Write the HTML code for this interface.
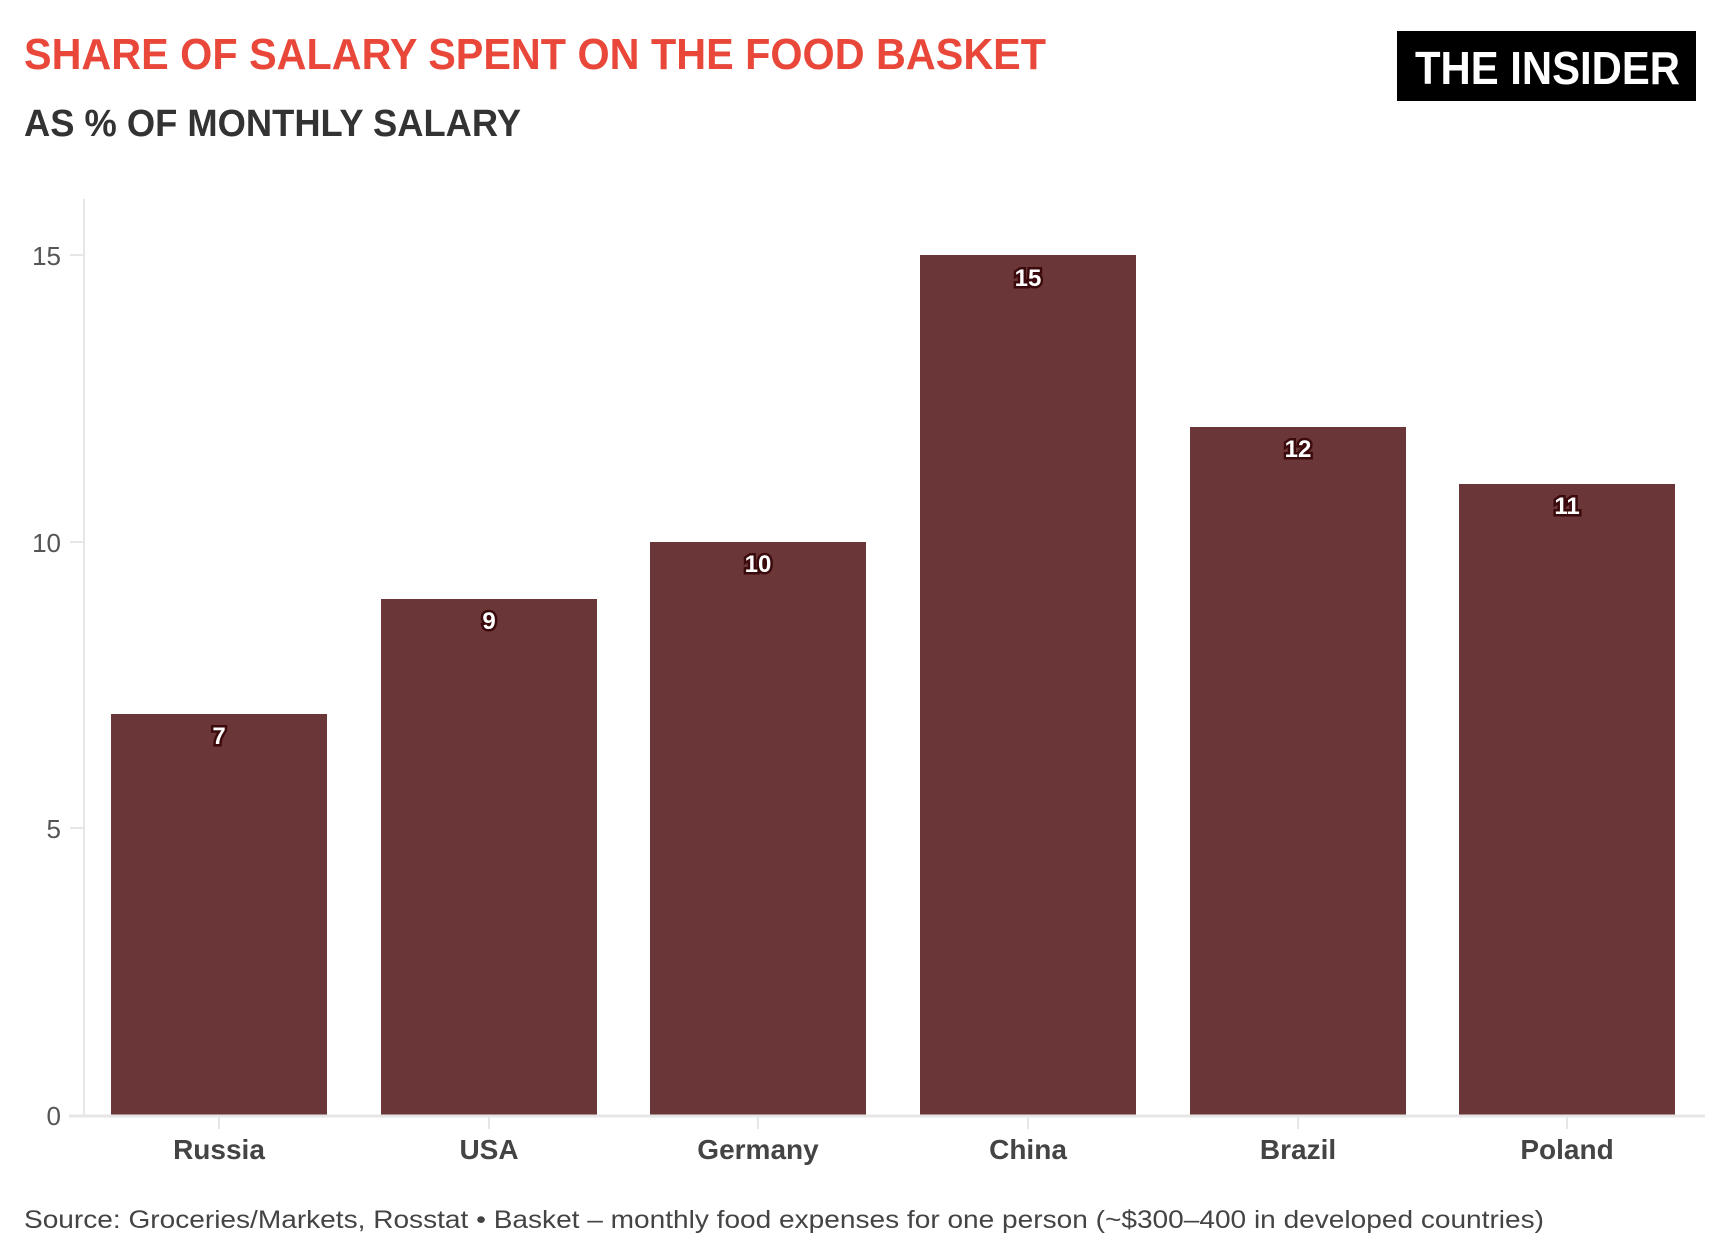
<!DOCTYPE html>
<html><head><meta charset="utf-8"><style>
html,body{margin:0;padding:0;background:#fff;}
svg{display:block;}
text{font-family:"Liberation Sans",sans-serif;}
</style></head><body>
<svg width="1732" height="1259" viewBox="0 0 1732 1259" xmlns="http://www.w3.org/2000/svg">
<rect width="1732" height="1259" fill="#fff"/>
<text x="24" y="69" font-size="44" font-weight="bold" fill="#e8473a" textLength="1022" lengthAdjust="spacingAndGlyphs">SHARE OF SALARY SPENT ON THE FOOD BASKET</text>
<text x="24" y="136" font-size="38" font-weight="bold" fill="#333" textLength="497" lengthAdjust="spacingAndGlyphs">AS % OF MONTHLY SALARY</text>
<rect x="1397" y="31" width="299" height="70" fill="#000"/>
<text x="1415" y="84" font-size="46" font-weight="bold" fill="#fff" textLength="265" lengthAdjust="spacingAndGlyphs">THE INSIDER</text>
<line x1="84" y1="199" x2="84" y2="1117" stroke="#e6e6e6" stroke-width="2"/>
<g font-size="26" fill="#555" text-anchor="end">
<text x="61" y="265">15</text><line x1="70" y1="255" x2="84" y2="255" stroke="#e6e6e6" stroke-width="2"/>
<text x="61" y="552">10</text><line x1="70" y1="542" x2="84" y2="542" stroke="#e6e6e6" stroke-width="2"/>
<text x="61" y="838">5</text><line x1="70" y1="828" x2="84" y2="828" stroke="#e6e6e6" stroke-width="2"/>
<text x="61" y="1125">0</text>
</g>
<g fill="#6b3638">
<rect x="111" y="714" width="216" height="401"/>
<rect x="381" y="599" width="216" height="516"/>
<rect x="650" y="542" width="216" height="573"/>
<rect x="920" y="255" width="216" height="860"/>
<rect x="1190" y="427" width="216" height="688"/>
<rect x="1459" y="484" width="216" height="631"/>
</g>
<line x1="69" y1="1116" x2="1705" y2="1116" stroke="#e6e6e6" stroke-width="3"/>
<g font-size="24" font-weight="bold" fill="#fff" stroke="#3a0a0c" stroke-width="5" paint-order="stroke" text-anchor="middle">
<text x="219" y="744">7</text>
<text x="489" y="629">9</text>
<text x="758" y="572">10</text>
<text x="1028" y="286">15</text>
<text x="1298" y="457">12</text>
<text x="1567" y="514">11</text>
</g>
<g stroke="#e6e6e6" stroke-width="2">
<line x1="219" y1="1117" x2="219" y2="1129"/><line x1="489" y1="1117" x2="489" y2="1129"/><line x1="758" y1="1117" x2="758" y2="1129"/><line x1="1028" y1="1117" x2="1028" y2="1129"/><line x1="1298" y1="1117" x2="1298" y2="1129"/><line x1="1567" y1="1117" x2="1567" y2="1129"/>
</g>
<g font-size="28" font-weight="bold" fill="#444" text-anchor="middle">
<text x="219" y="1159">Russia</text>
<text x="489" y="1159">USA</text>
<text x="758" y="1159">Germany</text>
<text x="1028" y="1159">China</text>
<text x="1298" y="1159">Brazil</text>
<text x="1567" y="1159">Poland</text>
</g>
<text x="24" y="1228" font-size="25" fill="#444" textLength="1520" lengthAdjust="spacingAndGlyphs">Source: Groceries/Markets, Rosstat • Basket – monthly food expenses for one person (~$300–400 in developed countries)</text>
</svg>
</body></html>
